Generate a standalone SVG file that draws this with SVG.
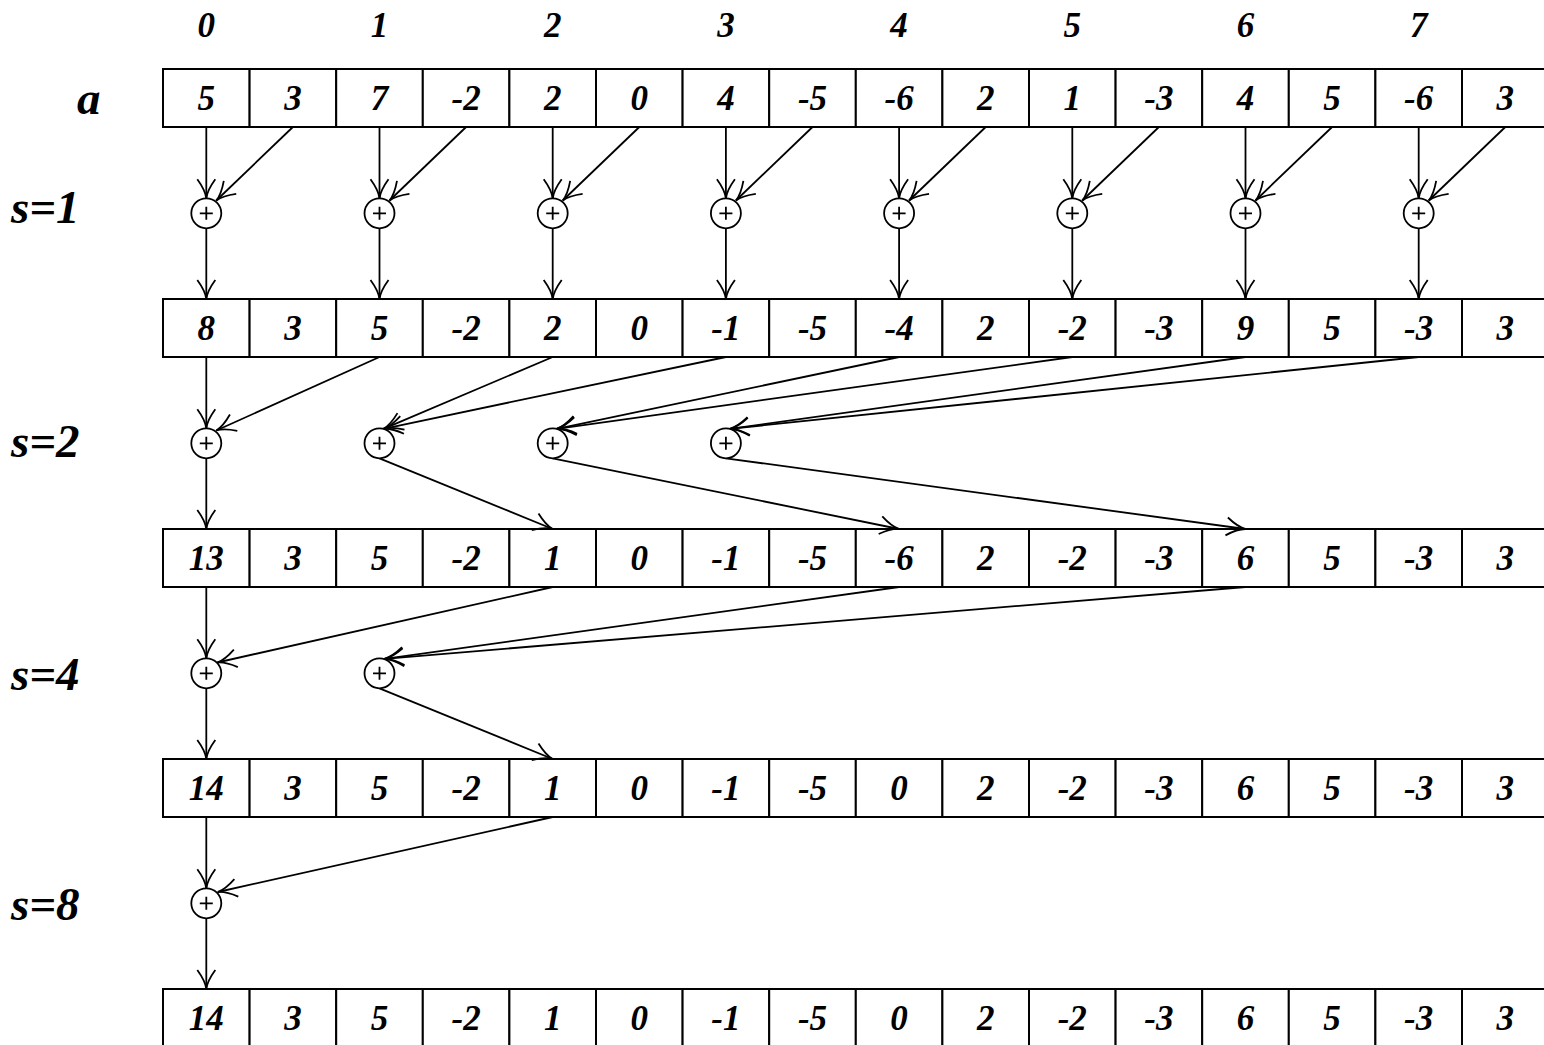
<svg xmlns="http://www.w3.org/2000/svg" xmlns:xlink="http://www.w3.org/1999/xlink" width="1544" height="1045" viewBox="0 0 1544 1045">
<style>
.cell{fill:#fff;stroke:#000;stroke-width:2}
.v{font-family:"Liberation Serif","Times New Roman",serif;font-weight:bold;font-style:italic;font-size:35px;text-anchor:middle;fill:#000}
.lbl{font-family:"Liberation Serif","Times New Roman",serif;font-weight:bold;font-style:italic;font-size:47px;fill:#000}
.add circle{fill:#fff;stroke:#000;stroke-width:1.8}
.add path{fill:none;stroke:#000;stroke-width:1.8}
.con line{stroke:#000;stroke-width:1.8;fill:none;marker-end:url(#ah)}
</style>
<defs>
<marker id="ah" markerUnits="userSpaceOnUse" markerWidth="24" markerHeight="24" viewBox="-20 -12 24 24" refX="0" refY="0" orient="auto" overflow="visible"><path d="M-19,-9 Q-8,-1 0,0 Q-8,1 -19,9" fill="none" stroke="#000" stroke-width="1.8"/></marker>
<g id="adder" class="add"><circle cx="0" cy="0" r="15"/><path d="M-6.5,0H6.5M0,-6.5V6.5"/></g>
<g id="row">
<rect class="cell" x="163" y="0" width="86.6" height="58"/><rect class="cell" x="249.6" y="0" width="86.6" height="58"/><rect class="cell" x="336.2" y="0" width="86.6" height="58"/><rect class="cell" x="422.8" y="0" width="86.6" height="58"/><rect class="cell" x="509.4" y="0" width="86.6" height="58"/><rect class="cell" x="596" y="0" width="86.6" height="58"/><rect class="cell" x="682.6" y="0" width="86.6" height="58"/><rect class="cell" x="769.2" y="0" width="86.6" height="58"/><rect class="cell" x="855.8" y="0" width="86.6" height="58"/><rect class="cell" x="942.4" y="0" width="86.6" height="58"/><rect class="cell" x="1029" y="0" width="86.6" height="58"/><rect class="cell" x="1115.6" y="0" width="86.6" height="58"/><rect class="cell" x="1202.2" y="0" width="86.6" height="58"/><rect class="cell" x="1288.8" y="0" width="86.6" height="58"/><rect class="cell" x="1375.4" y="0" width="86.6" height="58"/><rect class="cell" x="1462" y="0" width="86.6" height="58"/>
</g>
</defs>

<g id="labels">
<text class="v" x="206.3" y="37">0</text><text class="v" x="379.5" y="37">1</text><text class="v" x="552.7" y="37">2</text><text class="v" x="725.9" y="37">3</text><text class="v" x="899.1" y="37">4</text><text class="v" x="1072.3" y="37">5</text><text class="v" x="1245.5" y="37">6</text><text class="v" x="1418.7" y="37">7</text>
<text class="lbl" x="77" y="114">a</text>
<text class="lbl" x="11" y="223">s=1</text>
<text class="lbl" x="11" y="457">s=2</text>
<text class="lbl" x="11" y="690">s=4</text>
<text class="lbl" x="11" y="920">s=8</text>
</g>

<g id="row0">
<use xlink:href="#row" y="69"/>
<text class="v" y="110"><tspan x="206.3">5</tspan><tspan x="292.9">3</tspan><tspan x="379.5">7</tspan><tspan x="466.1">-2</tspan><tspan x="552.7">2</tspan><tspan x="639.3">0</tspan><tspan x="725.9">4</tspan><tspan x="812.5">-5</tspan><tspan x="899.1">-6</tspan><tspan x="985.7">2</tspan><tspan x="1072.3">1</tspan><tspan x="1158.9">-3</tspan><tspan x="1245.5">4</tspan><tspan x="1332.1">5</tspan><tspan x="1418.7">-6</tspan><tspan x="1505.3">3</tspan></text>
</g>
<g id="row1">
<use xlink:href="#row" y="299"/>
<text class="v" y="340"><tspan x="206.3">8</tspan><tspan x="292.9">3</tspan><tspan x="379.5">5</tspan><tspan x="466.1">-2</tspan><tspan x="552.7">2</tspan><tspan x="639.3">0</tspan><tspan x="725.9">-1</tspan><tspan x="812.5">-5</tspan><tspan x="899.1">-4</tspan><tspan x="985.7">2</tspan><tspan x="1072.3">-2</tspan><tspan x="1158.9">-3</tspan><tspan x="1245.5">9</tspan><tspan x="1332.1">5</tspan><tspan x="1418.7">-3</tspan><tspan x="1505.3">3</tspan></text>
</g>
<g id="row2">
<use xlink:href="#row" y="529"/>
<text class="v" y="570"><tspan x="206.3">13</tspan><tspan x="292.9">3</tspan><tspan x="379.5">5</tspan><tspan x="466.1">-2</tspan><tspan x="552.7">1</tspan><tspan x="639.3">0</tspan><tspan x="725.9">-1</tspan><tspan x="812.5">-5</tspan><tspan x="899.1">-6</tspan><tspan x="985.7">2</tspan><tspan x="1072.3">-2</tspan><tspan x="1158.9">-3</tspan><tspan x="1245.5">6</tspan><tspan x="1332.1">5</tspan><tspan x="1418.7">-3</tspan><tspan x="1505.3">3</tspan></text>
</g>
<g id="row3">
<use xlink:href="#row" y="759"/>
<text class="v" y="800"><tspan x="206.3">14</tspan><tspan x="292.9">3</tspan><tspan x="379.5">5</tspan><tspan x="466.1">-2</tspan><tspan x="552.7">1</tspan><tspan x="639.3">0</tspan><tspan x="725.9">-1</tspan><tspan x="812.5">-5</tspan><tspan x="899.1">0</tspan><tspan x="985.7">2</tspan><tspan x="1072.3">-2</tspan><tspan x="1158.9">-3</tspan><tspan x="1245.5">6</tspan><tspan x="1332.1">5</tspan><tspan x="1418.7">-3</tspan><tspan x="1505.3">3</tspan></text>
</g>
<g id="row4">
<use xlink:href="#row" y="989"/>
<text class="v" y="1030"><tspan x="206.3">14</tspan><tspan x="292.9">3</tspan><tspan x="379.5">5</tspan><tspan x="466.1">-2</tspan><tspan x="552.7">1</tspan><tspan x="639.3">0</tspan><tspan x="725.9">-1</tspan><tspan x="812.5">-5</tspan><tspan x="899.1">0</tspan><tspan x="985.7">2</tspan><tspan x="1072.3">-2</tspan><tspan x="1158.9">-3</tspan><tspan x="1245.5">6</tspan><tspan x="1332.1">5</tspan><tspan x="1418.7">-3</tspan><tspan x="1505.3">3</tspan></text>
</g>

<g id="connectors" class="con">
<line x1="206.3" y1="127" x2="206.3" y2="198.3"/><line x1="292.9" y1="127" x2="216.3" y2="200.5"/><line x1="206.3" y1="228.3" x2="206.3" y2="299"/>
<line x1="379.5" y1="127" x2="379.5" y2="198.3"/><line x1="466.1" y1="127" x2="389.5" y2="200.5"/><line x1="379.5" y1="228.3" x2="379.5" y2="299"/>
<line x1="552.7" y1="127" x2="552.7" y2="198.3"/><line x1="639.3" y1="127" x2="562.7" y2="200.5"/><line x1="552.7" y1="228.3" x2="552.7" y2="299"/>
<line x1="725.9" y1="127" x2="725.9" y2="198.3"/><line x1="812.5" y1="127" x2="735.9" y2="200.5"/><line x1="725.9" y1="228.3" x2="725.9" y2="299"/>
<line x1="899.1" y1="127" x2="899.1" y2="198.3"/><line x1="985.7" y1="127" x2="909.1" y2="200.5"/><line x1="899.1" y1="228.3" x2="899.1" y2="299"/>
<line x1="1072.3" y1="127" x2="1072.3" y2="198.3"/><line x1="1158.9" y1="127" x2="1082.3" y2="200.5"/><line x1="1072.3" y1="228.3" x2="1072.3" y2="299"/>
<line x1="1245.5" y1="127" x2="1245.5" y2="198.3"/><line x1="1332.1" y1="127" x2="1255.5" y2="200.5"/><line x1="1245.5" y1="228.3" x2="1245.5" y2="299"/>
<line x1="1418.7" y1="127" x2="1418.7" y2="198.3"/><line x1="1505.3" y1="127" x2="1428.7" y2="200.5"/><line x1="1418.7" y1="228.3" x2="1418.7" y2="299"/>
<line x1="206.3" y1="357" x2="206.3" y2="428.3"/><line x1="379.5" y1="357" x2="216.3" y2="430.5"/><line x1="206.3" y1="458.3" x2="206.3" y2="529"/>
<line x1="552.7" y1="357" x2="383.5" y2="428.8"/><line x1="725.9" y1="357" x2="383.5" y2="428.8"/><line x1="379.5" y1="458.3" x2="552.7" y2="529"/>
<line x1="899.1" y1="357" x2="556.7" y2="428.8"/><line x1="1072.3" y1="357" x2="556.7" y2="428.8"/><line x1="552.7" y1="458.3" x2="899.1" y2="529"/>
<line x1="1245.5" y1="357" x2="729.9" y2="428.8"/><line x1="1418.7" y1="357" x2="729.9" y2="428.8"/><line x1="725.9" y1="458.3" x2="1245.5" y2="529"/>
<line x1="206.3" y1="587" x2="206.3" y2="658.3"/><line x1="552.7" y1="587" x2="217.3" y2="662.5"/><line x1="206.3" y1="688.3" x2="206.3" y2="759"/>
<line x1="899.1" y1="587" x2="384.5" y2="658.8"/><line x1="1245.5" y1="587" x2="384.5" y2="658.8"/><line x1="379.5" y1="688.3" x2="552.7" y2="759"/>
<line x1="206.3" y1="817" x2="206.3" y2="888.3"/><line x1="552.7" y1="817" x2="217.8" y2="892"/><line x1="206.3" y1="918.3" x2="206.3" y2="989"/>
</g>

<g id="adders">
<g id="add1_0"><use xlink:href="#adder" x="206.3" y="213.3"/></g>
<g id="add1_1"><use xlink:href="#adder" x="379.5" y="213.3"/></g>
<g id="add1_2"><use xlink:href="#adder" x="552.7" y="213.3"/></g>
<g id="add1_3"><use xlink:href="#adder" x="725.9" y="213.3"/></g>
<g id="add1_4"><use xlink:href="#adder" x="899.1" y="213.3"/></g>
<g id="add1_5"><use xlink:href="#adder" x="1072.3" y="213.3"/></g>
<g id="add1_6"><use xlink:href="#adder" x="1245.5" y="213.3"/></g>
<g id="add1_7"><use xlink:href="#adder" x="1418.7" y="213.3"/></g>
<g id="add2_0"><use xlink:href="#adder" x="206.3" y="443.3"/></g>
<g id="add2_1"><use xlink:href="#adder" x="379.5" y="443.3"/></g>
<g id="add2_2"><use xlink:href="#adder" x="552.7" y="443.3"/></g>
<g id="add2_3"><use xlink:href="#adder" x="725.9" y="443.3"/></g>
<g id="add4_0"><use xlink:href="#adder" x="206.3" y="673.3"/></g>
<g id="add4_1"><use xlink:href="#adder" x="379.5" y="673.3"/></g>
<g id="add8_0"><use xlink:href="#adder" x="206.3" y="903.3"/></g>
</g>
</svg>
